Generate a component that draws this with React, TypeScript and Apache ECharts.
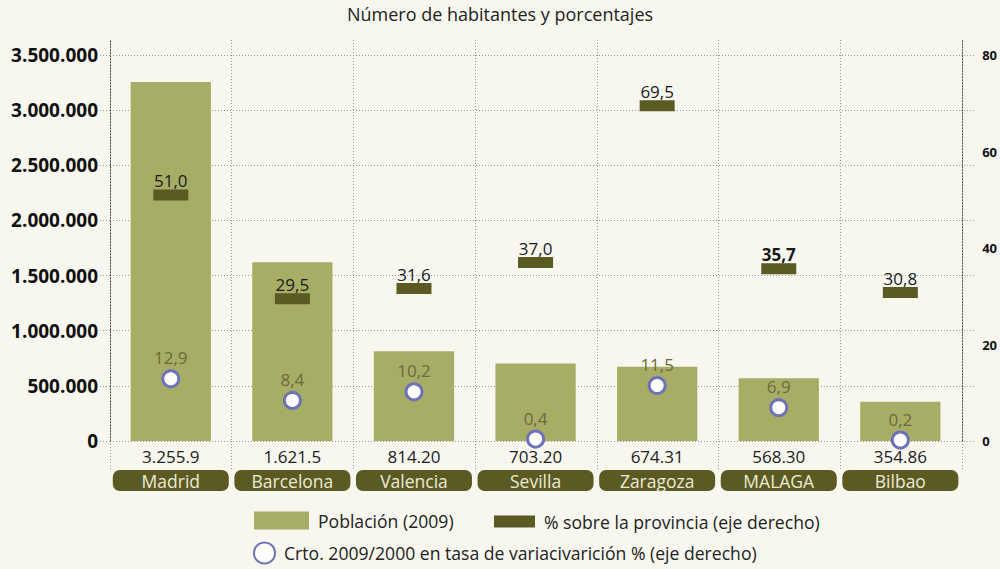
import React, { useEffect, useRef } from "react";
import * as echarts from "echarts";

const titleText = "Número de habitantes y porcentajes";
const cities = ["Madrid", "Barcelona", "Valencia", "Sevilla", "Zaragoza", "MALAGA", "Bilbao"];
const popTickLabels = ["3.255.9", "1.621.5", "814.20", "703.20", "674.31", "568.30", "354.86"];
const population = [3255944, 1621537, 814208, 703206, 674317, 568305, 354860];
const shareProvince = [51.0, 29.5, 31.6, 37.0, 69.5, 35.7, 30.8];
const growth = [12.9, 8.4, 10.2, 0.4, 11.5, 6.9, 0.2];
const boldShareCity = "MALAGA";

const seriesNames = [
  "Población (2009)",
  "% sobre la provincia (eje derecho)",
  "Crto. 2009/2000 en tasa de variacivarición % (eje derecho)",
];

const LEFT_MAX = 3500000;
const RIGHT_MAX = 80;

const FONT = "'Open Sans', sans-serif";
const BG = "#F8F7EF";
const BAR = "#A8AD65";
const DARK = "#5B5A22";
const RING = "#6E72B6";
const GRIDC = "#9a9a9a";

const fmtComma = (v: number) => v.toFixed(1).replace(".", ",");
const fmtThousands = (v: number) =>
  Math.round(v).toString().replace(/\B(?=(\d{3})+(?!\d))/g, ".");

export default function App() {
  const ref = useRef<HTMLDivElement>(null);
  useEffect(() => {
    document.body.style.margin = "0";
    if (!ref.current) return;
    const chart = echarts.init(ref.current, undefined, { renderer: "svg" });
    const dotted = { color: GRIDC, type: [1, 2] as any, width: 1 };
    const darkDotted = { color: "#444", type: [1, 2] as any, width: 1 };
    const legendText = { fontFamily: FONT, fontSize: 17.6, color: "#222", padding: [0, 0, 0, 4] };
    const frameAxis = (position: string) => ({
      type: "value",
      gridIndex: 1,
      position,
      min: 0,
      max: 1,
      axisLine: { show: true, lineStyle: darkDotted },
      axisTick: { show: false },
      axisLabel: { show: false },
      splitLine: { show: false },
    });
    chart.setOption({
      animation: false,
      backgroundColor: BG,
      textStyle: { fontFamily: FONT },
      title: {
        text: titleText,
        left: "center",
        top: 5,
        padding: 0,
        textStyle: { fontFamily: FONT, fontSize: 18, fontWeight: "normal", color: "#222" },
      },
      legend: [
        {
          data: [seriesNames[0]],
          left: 254,
          top: 511.5,
          padding: 0,
          itemWidth: 55,
          itemHeight: 18,
          icon: "rect",
          textStyle: legendText,
        },
        {
          data: [seriesNames[1]],
          left: 494,
          top: 512.5,
          padding: 0,
          itemWidth: 41,
          itemHeight: 12,
          icon: "rect",
          textStyle: legendText,
        },
        {
          data: [seriesNames[2]],
          left: 253,
          top: 541.5,
          padding: 0,
          itemWidth: 21,
          itemHeight: 21,
          icon: "circle",
          textStyle: legendText,
        },
      ],
      grid: [
        { left: 110, right: 38, top: 55, bottom: 128 },
        { left: 110, right: 38, top: 40, bottom: 128 },
      ],
      xAxis: [
        {
          type: "category",
          gridIndex: 0,
          data: cities,
          axisLine: { show: false },
          axisTick: { show: false },
          splitLine: { show: false },
          axisLabel: {
            interval: 0,
            margin: 2,
            formatter: (val: string, idx: number) => `{v|${popTickLabels[idx]}}\n{c|${val}}`,
            rich: {
              v: { fontFamily: FONT, fontSize: 17, color: "#222", lineHeight: 27, align: "center" },
              c: {
                fontFamily: FONT,
                fontSize: 17.5,
                color: "#ECEAD6",
                backgroundColor: DARK,
                borderRadius: 7,
                width: 116,
                height: 21,
                lineHeight: 21,
                align: "center",
              },
            },
          },
        },
        {
          type: "category",
          gridIndex: 1,
          data: cities,
          axisLine: { show: false },
          axisLabel: { show: false },
          axisTick: { show: true, length: 30, interval: 0, lineStyle: dotted },
          splitLine: { show: true, interval: 0, lineStyle: dotted },
        },
      ],
      yAxis: [
        {
          type: "value",
          gridIndex: 0,
          min: 0,
          max: LEFT_MAX,
          interval: 500000,
          axisLine: { show: false },
          axisTick: { show: true, length: 10, lineStyle: dotted },
          splitLine: { show: true, lineStyle: dotted },
          axisLabel: {
            margin: 12,
            fontFamily: FONT,
            fontSize: 19,
            fontWeight: "bold",
            color: "#111",
            formatter: (v: number) => fmtThousands(v),
          },
        },
        {
          type: "value",
          gridIndex: 0,
          position: "right",
          min: 0,
          max: RIGHT_MAX,
          interval: 20,
          axisLine: { show: false },
          axisTick: { show: false },
          splitLine: { show: false },
          axisLabel: {
            margin: 21,
            fontFamily: FONT,
            fontSize: 13,
            fontWeight: "bold",
            color: "#111",
          },
        },
        {
          type: "value",
          gridIndex: 0,
          position: "right",
          min: 0,
          max: LEFT_MAX,
          interval: 500000,
          axisLine: { show: false },
          axisTick: { show: true, length: 15, lineStyle: dotted },
          splitLine: { show: false },
          axisLabel: { show: false },
        },
        frameAxis("left"),
        frameAxis("right"),
      ],
      series: [
        {
          name: seriesNames[0],
          type: "bar",
          xAxisIndex: 0,
          yAxisIndex: 0,
          data: population,
          barWidth: "66%",
          itemStyle: { color: BAR },
          z: 2,
        },
        {
          name: seriesNames[1],
          type: "scatter",
          xAxisIndex: 0,
          yAxisIndex: 1,
          data: shareProvince.map((v, i) => ({
            value: v,
            label: { fontWeight: cities[i] === boldShareCity ? "bold" : "normal" },
          })),
          symbol: "rect",
          symbolSize: [35, 11],
          itemStyle: { color: DARK, opacity: 1 },
          label: {
            show: true,
            position: "top",
            distance: 0,
            fontFamily: FONT,
            fontSize: 17,
            color: "#1a1a1a",
            formatter: (p: any) => fmtComma(p.value),
          },
          z: 4,
        },
        {
          name: seriesNames[2],
          type: "scatter",
          xAxisIndex: 0,
          yAxisIndex: 1,
          data: growth,
          symbol: "circle",
          symbolSize: 16,
          itemStyle: { color: "#ffffff", borderColor: RING, borderWidth: 3, opacity: 1 },
          label: {
            show: true,
            position: "top",
            distance: 3,
            fontFamily: FONT,
            fontSize: 17,
            color: "#6B6A3C",
            formatter: (p: any) => fmtComma(p.value),
          },
          z: 5,
        },
      ],
    });
    return () => chart.dispose();
  }, []);
  return <div ref={ref} style={{ width: 1000, height: 569 }} />;
}
